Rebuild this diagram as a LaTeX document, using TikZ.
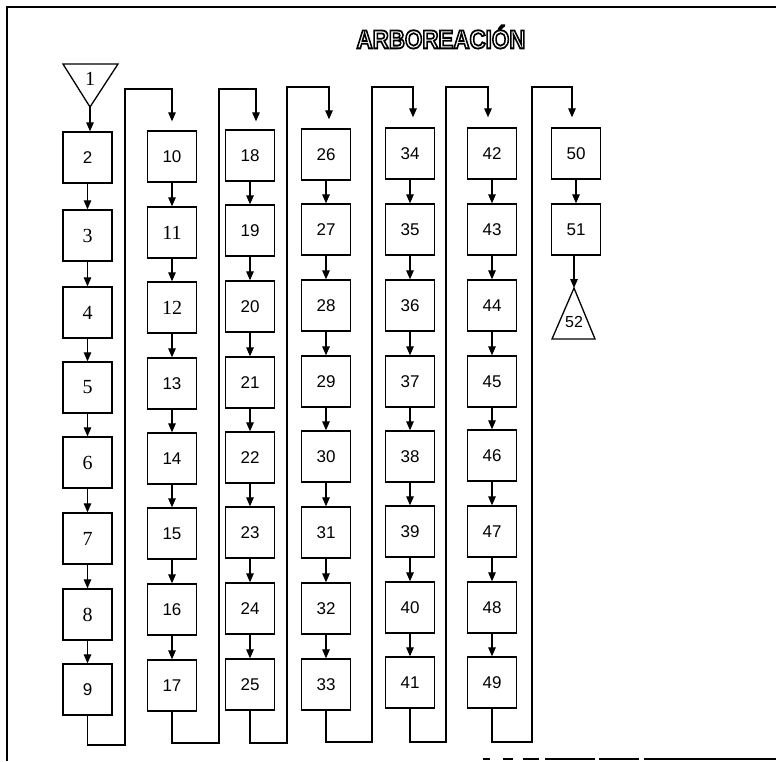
\documentclass[tikz,border=0pt]{standalone}
\usepackage{fontspec}
\setmainfont{Liberation Sans}
\newfontfamily\sernum{Liberation Serif}
\usetikzlibrary{arrows.meta}
\newcommand{\outlinetext}[1]{\special{pdf:literal direct 2 Tr 1.8 w 0 G 1 g}#1\special{pdf:literal direct 0 Tr}}
\begin{document}
\begin{tikzpicture}[x=1pt,y=-1pt,
  box/.style={draw, line width=1.3pt, minimum width=49pt, minimum height=51pt, inner sep=0pt,
    font=\fontsize{17}{17}\selectfont},
  sbox/.style={box, font=\fontsize{20}{20}\sernum},
  arr/.style={line width=1.2pt, -{Triangle[length=9pt,width=7.5pt]}},
  frame/.style={line width=1.3pt},
  titlefont/.style={inner sep=0pt, font=\fontsize{26}{26}\selectfont\bfseries}]
\useasboundingbox (0,0) rectangle (776,761);
% frame
\draw[frame] (7,761) -- (7,7) -- (776,7);
\draw[frame, dash pattern=on 7pt off 13pt on 10pt off 10pt on 16pt off 6pt on 50pt off 4pt on 40pt off 5pt on 200pt] (483,759) -- (776,759);
% title
\node[titlefont] (title) at (441,37) {\scalebox{0.86}[1]{\outlinetext{ARBOREACIÓN}}};
% triangle 1
\coordinate (t1apex) at (90,107);
\draw[frame] (63,64) -- (118,64) -- (t1apex) -- cycle;
\node[font=\fontsize{20}{20}\sernum] (t1) at (90,79) {1};
% column 1
\node[box]  (b2) at (87.5,157.5) {2};
\node[sbox] (b3) at (87.5,235.5) {3};
\node[sbox] (b4) at (87.5,312.5) {4};
\node[sbox] (b5) at (87.5,387.5) {5};
\node[sbox] (b6) at (87.5,462.5) {6};
\node[sbox] (b7) at (87.5,538.5) {7};
\node[sbox] (b8) at (87.5,614.5) {8};
\node[box]  (b9) at (87.5,689.5) {9};
% column 2
\node[box]  (b10) at (172,156.5) {10};
\node[sbox] (b11) at (172,232.5) {11};
\node[sbox] (b12) at (172,307.5) {12};
\node[box]  (b13) at (172,383.5) {13};
\node[box]  (b14) at (172,458.5) {14};
\node[box]  (b15) at (172,533.5) {15};
\node[box]  (b16) at (172,609.5) {16};
\node[box]  (b17) at (172,685.5) {17};
% column 3
\node[box] (b18) at (250,155.5) {18};
\node[box] (b19) at (250,230.5) {19};
\node[box] (b20) at (250,306.5) {20};
\node[box] (b21) at (250,382.5) {21};
\node[box] (b22) at (250,457.5) {22};
\node[box] (b23) at (250,532.5) {23};
\node[box] (b24) at (250,608.5) {24};
\node[box] (b25) at (250,684.5) {25};
% column 4
\node[box] (b26) at (326,154.5) {26};
\node[box] (b27) at (326,229.5) {27};
\node[box] (b28) at (326,305.5) {28};
\node[box] (b29) at (326,381.5) {29};
\node[box] (b30) at (326,456.5) {30};
\node[box] (b31) at (326,532.5) {31};
\node[box] (b32) at (326,608.5) {32};
\node[box] (b33) at (326,684.5) {33};
% column 5
\node[box] (b34) at (410,153.5) {34};
\node[box] (b35) at (410,229.5) {35};
\node[box] (b36) at (410,305.5) {36};
\node[box] (b37) at (410,381.5) {37};
\node[box] (b38) at (410,456.5) {38};
\node[box] (b39) at (410,531.5) {39};
\node[box] (b40) at (410,607.5) {40};
\node[box] (b41) at (410,682.5) {41};
% column 6
\node[box] (b42) at (492,153.5) {42};
\node[box] (b43) at (492,229.5) {43};
\node[box] (b44) at (492,305.5) {44};
\node[box] (b45) at (492,381.5) {45};
\node[box] (b46) at (492,455.5) {46};
\node[box] (b47) at (492,531.5) {47};
\node[box] (b48) at (492,607.5) {48};
\node[box] (b49) at (492,682.5) {49};
% column 7
\node[box] (b50) at (576,153.5) {50};
\node[box] (b51) at (576,229.5) {51};
% triangle 52
\coordinate (t52apex) at (574,288);
\draw[frame] (t52apex) -- (595,339) -- (552,339) -- cycle;
\node[font=\fontsize{16}{16}\selectfont] (t52) at (574,322) {52};
% arrows within columns
\draw[arr] (t1apex) -- (t1apex |- b2.north);
\foreach \a/\b in {2/3,3/4,4/5,5/6,6/7,7/8,8/9,
  10/11,11/12,12/13,13/14,14/15,15/16,16/17,
  18/19,19/20,20/21,21/22,22/23,23/24,24/25,
  26/27,27/28,28/29,29/30,30/31,31/32,32/33,
  34/35,35/36,36/37,37/38,38/39,39/40,40/41,
  42/43,43/44,44/45,45/46,46/47,47/48,48/49,
  50/51}
  \draw[arr] (b\a.south) -- (b\b.north);
\draw[arr] ([xshift=-2pt]b51.south) -- ([xshift=-2pt]b51.south |- t52apex);
% connectors between columns
\coordinate (lo1) at (125,745); \coordinate (hi1) at (125,89);
\coordinate (lo2) at (219,743); \coordinate (hi2) at (219,89);
\coordinate (lo3) at (287,743); \coordinate (hi3) at (287,87);
\coordinate (lo4) at (372,742); \coordinate (hi4) at (372,87);
\coordinate (lo5) at (446,742); \coordinate (hi5) at (446,87);
\coordinate (lo6) at (532,742); \coordinate (hi6) at (532,87);
\draw[arr, shorten >=9pt] (b9.south) |- (lo1) -- (hi1) -| (b10.north);
\draw[arr, shorten >=8pt] (b17.south) |- (lo2) -- (hi2) -| ([xshift=6pt]b18.north);
\draw[arr, shorten >=9pt] (b25.south) |- (lo3) -- (hi3) -| ([xshift=3pt]b26.north);
\draw[arr, shorten >=10pt] (b33.south) |- (lo4) -- (hi4) -| ([xshift=3pt]b34.north);
\draw[arr, shorten >=10pt] (b41.south) |- (lo5) -- (hi5) -| ([xshift=-4pt]b42.north);
\draw[arr, shorten >=10pt] (b49.south) |- (lo6) -- (hi6) -| ([xshift=-4pt]b50.north);
\end{tikzpicture}
\end{document}
